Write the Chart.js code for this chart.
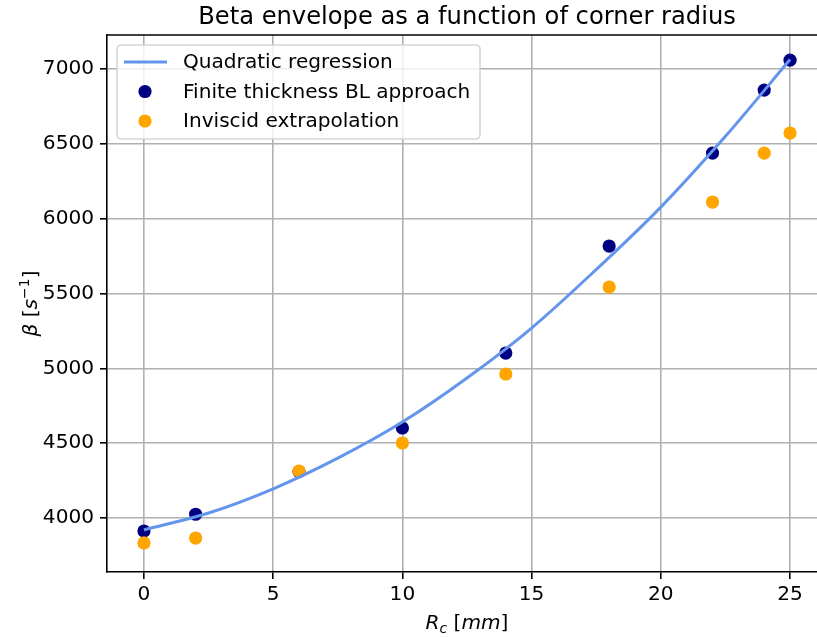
<!DOCTYPE html>
<html>
<head>
<meta charset="utf-8">
<script src="https://cdn.jsdelivr.net/npm/chart.js@4"></script>
<style>
  body { margin: 0; overflow: hidden; background: #fff; }
  canvas { display: block; }
</style>
</head>
<body>
<canvas id="myChart" width="840" height="637"></canvas>
<script>
// corner radius [mm] and beta values
const rc = [0, 2, 6, 10, 14, 18, 22, 24, 25];
const finiteBL = [3913, 4025, 4310, 4601, 5102, 5817, 6438, 6859, 7059];
const inviscid = [3833, 3866, 4314, 4501, 4962, 5543, 6111, 6438, 6572];
// regression curve
const fitX = [0, 2.5, 5, 7.5, 10, 12.5, 15, 17.5, 20, 22.5, 25];
const fitY = [3920, 4033, 4195, 4400, 4641, 4935, 5269, 5660, 6077, 6550, 7063];
const xTicks = [0, 5, 10, 15, 20, 25];
const yTicks = [4000, 4500, 5000, 5500, 6000, 6500, 7000];
const titleText = 'Beta envelope as a function of corner radius';

const FONT = 'DejaVu Sans';
const FS = 20.1;   // 10pt at this dpi
Chart.defaults.font.family = FONT;
Chart.defaults.color = '#000';

function pts(xs, ys) {
    return xs.map((x, i) => ({x: x, y: ys[i]}));
}

// title over the plot area, top spine, axis titles and a matplotlib style legend
const extras = {
    id: 'extras',
    afterDraw(chart) {
        const ctx = chart.ctx;
        const a = chart.chartArea;
        ctx.save();
        ctx.fillStyle = '#000';
        ctx.font = '24.2px ' + FONT;
        ctx.textAlign = 'center';
        ctx.textBaseline = 'alphabetic';
        ctx.fillText(titleText, (a.left + a.right) / 2, 24);

        ctx.strokeStyle = '#000';
        ctx.lineWidth = 1.6;
        ctx.beginPath();
        ctx.moveTo(a.left, a.top);
        ctx.lineTo(a.right, a.top);
        ctx.stroke();

        // x axis title: R_c [mm]
        ctx.textAlign = 'left';
        const big = 'italic ' + FS + 'px ' + FONT;
        const small = 'italic 14px ' + FONT;
        const up = FS + 'px ' + FONT;
        ctx.font = big; const wR = ctx.measureText('R').width;
        ctx.font = small; const wc = ctx.measureText('c').width;
        ctx.font = up; const wb1 = ctx.measureText(' [').width;
        ctx.font = big; const wmm = ctx.measureText('mm').width;
        ctx.font = up; const wb2 = ctx.measureText(']').width;
        let x = (a.left + a.right) / 2 - (wR + wc + wb1 + wmm + wb2) / 2;
        const by = 629;
        ctx.font = big; ctx.fillText('R', x, by); x += wR;
        ctx.font = small; ctx.fillText('c', x, by + 4); x += wc;
        ctx.font = up; ctx.fillText(' [', x, by); x += wb1;
        ctx.font = big; ctx.fillText('mm', x, by); x += wmm;
        ctx.font = up; ctx.fillText(']', x, by);

        // y axis title: beta [s^-1]
        ctx.save();
        ctx.translate(37, (a.top + a.bottom) / 2);
        ctx.rotate(-Math.PI / 2);
        ctx.font = big; const wbeta = ctx.measureText('β').width;
        ctx.font = up; const wb3 = ctx.measureText(' [').width;
        ctx.font = big; const ws = ctx.measureText('s').width;
        ctx.font = '14px ' + FONT; const wsup = ctx.measureText('−1').width;
        ctx.font = up; const wb4 = ctx.measureText(']').width;
        let yx = -(wbeta + wb3 + ws + wsup + wb4) / 2;
        ctx.font = big; ctx.fillText('β', yx, 0); yx += wbeta;
        ctx.font = up; ctx.fillText(' [', yx, 0); yx += wb3;
        ctx.font = big; ctx.fillText('s', yx, 0); yx += ws;
        ctx.font = '14px ' + FONT; ctx.fillText('−1', yx, -8); yx += wsup;
        ctx.font = up; ctx.fillText(']', yx, 0);
        ctx.restore();

        // legend box
        const lx = 117, ly = 45, lw = 363, lh = 94;
        ctx.beginPath();
        ctx.roundRect(lx, ly, lw, lh, 4);
        ctx.fillStyle = 'rgba(255,255,255,0.8)';
        ctx.fill();
        ctx.strokeStyle = 'rgba(204,204,204,0.8)';
        ctx.lineWidth = 1.6;
        ctx.stroke();

        ctx.font = FS + 'px ' + FONT;
        ctx.textBaseline = 'middle';
        chart.data.datasets.forEach((ds, i) => {
            const cy = 62 + i * 29.5;
            if (ds.showLine) {
                ctx.strokeStyle = ds.borderColor;
                ctx.lineWidth = ds.borderWidth;
                ctx.beginPath();
                ctx.moveTo(124, cy);
                ctx.lineTo(167, cy);
                ctx.stroke();
            } else {
                ctx.fillStyle = ds.backgroundColor;
                ctx.beginPath();
                ctx.arc(145, cy, ds.pointRadius, 0, Math.PI * 2);
                ctx.fill();
            }
            ctx.fillStyle = '#000';
            ctx.fillText(ds.label, 183, cy + 1);
        });
        ctx.restore();
    }
};

const data = {
    datasets: [
        {
            label: 'Quadratic regression',
            data: pts(fitX, fitY),
            showLine: true,
            borderColor: '#6495ed',
            borderWidth: 3,
            pointRadius: 0,
            cubicInterpolationMode: 'monotone',
            order: 0
        },
        {
            label: 'Finite thickness BL approach',
            data: pts(rc, finiteBL),
            backgroundColor: '#000080',
            borderWidth: 0,
            pointRadius: 6.6,
            order: 2
        },
        {
            label: 'Inviscid extrapolation',
            data: pts(rc, inviscid),
            backgroundColor: '#ffa500',
            borderWidth: 0,
            pointRadius: 6.6,
            order: 1
        }
    ]
};

const config = {
    type: 'scatter',
    data: data,
    options: {
        responsive: false,
        animation: false,
        layout: { padding: { top: 35, right: 13, bottom: 0, left: 0 } },
        plugins: {
            legend: { display: false },
            tooltip: { enabled: false },
            title: { display: false }
        },
        scales: {
            x: {
                type: 'linear',
                min: -1.43,
                max: 26.43,
                afterFit: (s) => { s.height = 65; },
                afterBuildTicks: (s) => { s.ticks = xTicks.map(v => ({value: v})); },
                ticks: { font: { size: FS }, padding: 4, includeBounds: false },
                grid: { color: '#b0b0b0', lineWidth: 1.6, tickColor: '#000', tickLength: 7 },
                border: { color: '#000', width: 1.6 }
            },
            y: {
                type: 'linear',
                min: 3639,
                max: 7227,
                afterFit: (s) => { s.width = 107; },
                afterBuildTicks: (s) => { s.ticks = yTicks.map(v => ({value: v})); },
                ticks: {
                    font: { size: FS },
                    padding: 6,
                    includeBounds: false,
                    callback: (v) => String(v)
                },
                grid: { color: '#b0b0b0', lineWidth: 1.6, tickColor: '#000', tickLength: 7 },
                border: { color: '#000', width: 1.6 }
            }
        }
    },
    plugins: [extras]
};

const myChart = new Chart(document.getElementById('myChart'), config);
</script>
</body>
</html>
